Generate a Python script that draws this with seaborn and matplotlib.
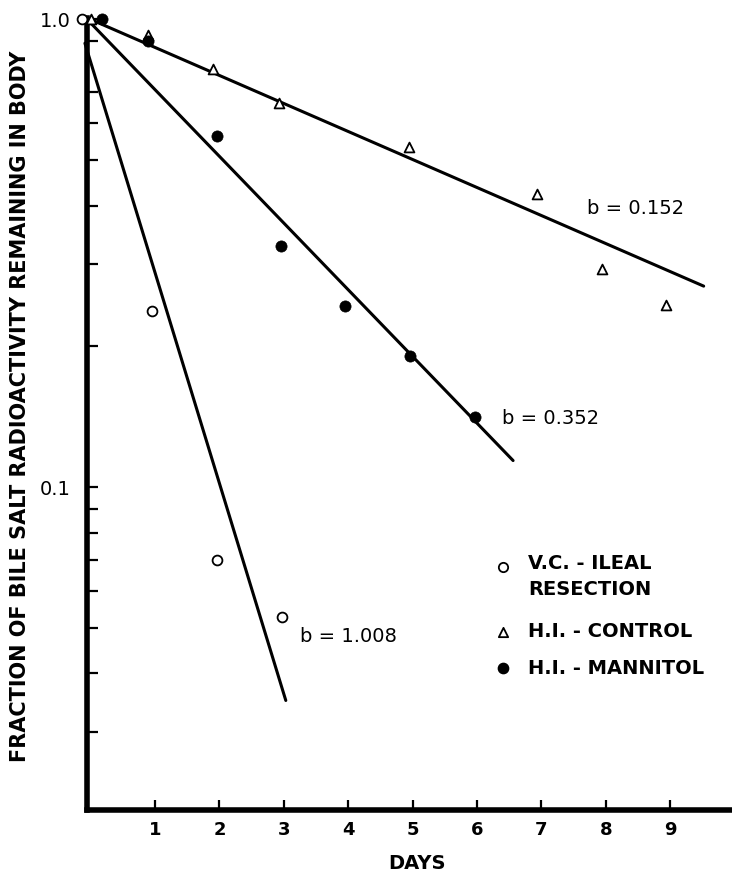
import matplotlib
matplotlib.use("Agg")
import matplotlib.pyplot as plt
import seaborn as sns
from matplotlib.ticker import NullFormatter

# values (days, fraction remaining)
vc_days = [-0.13, 0.95, 1.96, 2.97]
vc_frac = [1.0, 0.238, 0.070, 0.0529]
ctrl_days = [0.0, 0.89, 1.90, 2.93, 4.94, 6.93, 7.94, 8.93]
ctrl_frac = [1.0, 0.924, 0.782, 0.662, 0.533, 0.423, 0.293, 0.245]
mann_days = [0.17, 0.89, 1.96, 2.96, 3.95, 4.96, 5.97]
mann_frac = [1.0, 0.898, 0.562, 0.327, 0.244, 0.191, 0.141]

# fitted exponential lines (start / end)
vc_fit_days = [-0.09, 3.03]
vc_fit_frac = [0.889, 0.0350]
ctrl_fit_days = [-0.04, 9.52]
ctrl_fit_frac = [1.005, 0.269]
mann_fit_days = [-0.04, 6.56]
mann_fit_frac = [0.995, 0.114]

slope_labels = ["b = 0.152", "b = 0.352", "b = 1.008"]
slope_label_days = [7.71, 6.39, 3.25]
slope_label_frac = [0.395, 0.140, 0.048]

legend_labels = ["V.C. - ILEAL\nRESECTION", "H.I. - CONTROL", "H.I. - MANNITOL"]
x_ticks = [1, 2, 3, 4, 5, 6, 7, 8, 9]
y_major = [0.1, 1.0]
y_major_labels = ["0.1", "1.0"]
y_minor = [0.03, 0.04, 0.05, 0.06, 0.07, 0.08, 0.09,
           0.2, 0.3, 0.4, 0.5, 0.6, 0.7, 0.9]

sns.set_style("white")
plt.rcParams["font.family"] = ["DejaVu Sans"]
plt.rcParams["text.color"] = "black"
plt.rcParams["axes.labelcolor"] = "black"
plt.rcParams["xtick.color"] = "black"
plt.rcParams["ytick.color"] = "black"

fig = plt.figure(figsize=(7.32, 8.73), dpi=100)
ax = fig.add_axes([0.119, 0.072, 0.881, 0.907])

# fit lines
for d, f in [(ctrl_fit_days, ctrl_fit_frac), (mann_fit_days, mann_fit_frac), (vc_fit_days, vc_fit_frac)]:
    sns.lineplot(x=d, y=f, color="black", linewidth=2.2, ax=ax, clip_on=False)

# data points
sns.scatterplot(x=vc_days, y=vc_frac, marker="o", s=50, color="white",
                edgecolor="black", linewidth=1.3, ax=ax, clip_on=False, zorder=3)
sns.scatterplot(x=ctrl_days, y=ctrl_frac, marker="^", s=50, color="white",
                edgecolor="black", linewidth=1.3, ax=ax, clip_on=False, zorder=3)
sns.scatterplot(x=mann_days, y=mann_frac, marker="o", s=65, color="black",
                edgecolor="black", linewidth=0.5, ax=ax, clip_on=False, zorder=3)

for lab, d, f in zip(slope_labels, slope_label_days, slope_label_frac):
    ax.text(d, f, lab, fontsize=14, ha="left", va="center", color="black")

# hand-made legend, as in the original figure
ax.scatter([0.645], [0.307], marker="o", s=45, color="white", edgecolor="black",
           linewidth=1.3, transform=ax.transAxes, clip_on=False)
ax.scatter([0.645], [0.225], marker="^", s=45, color="white", edgecolor="black",
           linewidth=1.3, transform=ax.transAxes, clip_on=False)
ax.scatter([0.645], [0.179], marker="o", s=55, color="black",
           transform=ax.transAxes, clip_on=False)
ax.text(0.684, 0.324, legend_labels[0], transform=ax.transAxes, fontsize=14,
        fontweight="bold", va="top", ha="left", linespacing=1.5)
ax.text(0.684, 0.225, legend_labels[1], transform=ax.transAxes, fontsize=14,
        fontweight="bold", va="center", ha="left")
ax.text(0.684, 0.179, legend_labels[2], transform=ax.transAxes, fontsize=14,
        fontweight="bold", va="center", ha="left")

ax.set_yscale("log")
ax.set_xlim(-0.056, 9.96)
ax.set_ylim(0.0204, 1.005)

ax.set_xticks(x_ticks)
ax.set_xticklabels([str(t) for t in x_ticks], fontsize=13, fontweight="bold")
ax.set_yticks(y_major)
ax.set_yticklabels(y_major_labels, fontsize=14)
ax.set_yticks(y_minor, minor=True)
ax.yaxis.set_minor_formatter(NullFormatter())
ax.tick_params(axis="x", bottom=True, direction="in", length=7, width=1.6, pad=8)
ax.tick_params(axis="y", which="both", left=True, direction="in", length=8,
               width=1.6, pad=12)

sns.despine(ax=ax)
for side in ["left", "bottom"]:
    ax.spines[side].set_linewidth(4)
    ax.spines[side].set_color("black")

ax.set_xlabel("DAYS", fontsize=14, fontweight="bold")
ax.xaxis.set_label_coords(0.512, -0.055)
ax.set_ylabel("FRACTION OF BILE SALT RADIOACTIVITY REMAINING IN BODY",
              fontsize=15, fontweight="bold")
ax.yaxis.set_label_coords(-0.088, 0.51)

fig.savefig("out.png", dpi=100)
